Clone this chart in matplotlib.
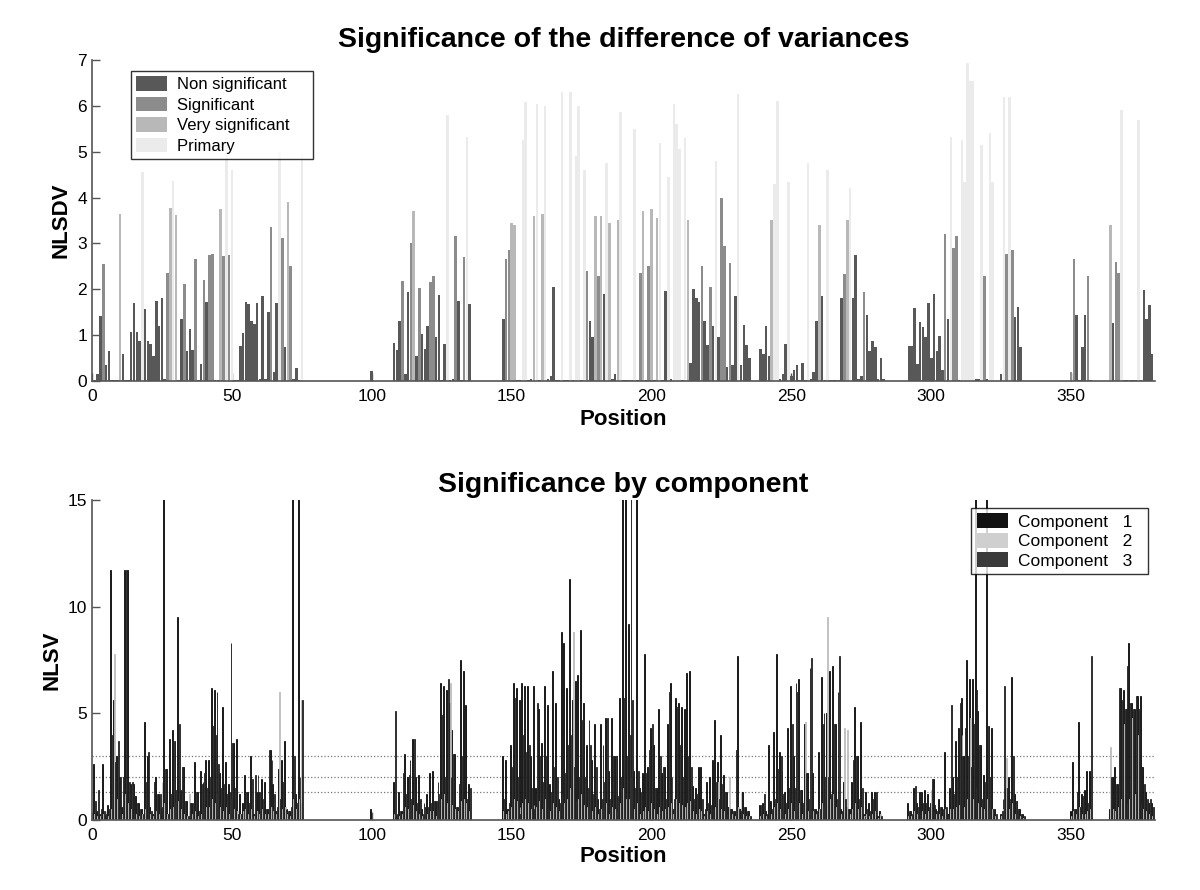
import numpy as np
import matplotlib
matplotlib.use("Agg")
import matplotlib.pyplot as plt
from matplotlib.patches import Patch

plt.rcParams['font.family'] = ['Liberation Sans', 'DejaVu Sans']

# ---------------- data ----------------
N_POS = 380
positions = np.arange(1, N_POS + 1)

# top panel: NLSDV per position
top_values = [
    0.03, 0.15, 1.42, 2.55, 0.35, 0.65, 0.03, 0.03, 0.03, 3.64,
    0.59, 0.02, 0.02, 1.07, 1.70, 1.07, 0.88, 4.56, 1.58, 0.87,
    0.80, 0.55, 1.75, 1.20, 1.80, 0.05, 2.35, 3.77, 4.37, 3.62,
    0.02, 1.35, 2.12, 0.65, 1.13, 0.68, 2.65, 0.02, 0.38, 2.20,
    1.73, 2.74, 2.78, 0.03, 0.03, 3.75, 2.72, 5.30, 2.74, 4.60,
    0.03, 0.03, 0.77, 1.05, 1.72, 1.68, 1.30, 1.25, 1.70, 0.05,
    1.85, 0.05, 1.50, 3.35, 0.20, 1.70, 5.00, 3.12, 0.75, 3.90,
    2.50, 0.05, 0.28, 0.03, 4.95, 0, 0, 0, 0, 0,
    0, 0, 0, 0, 0, 0, 0, 0, 0, 0,
    0, 0, 0, 0, 0, 0, 0, 0, 0, 0.22,
    0, 0, 0, 0, 0, 0, 0, 0.83, 0.68, 1.30,
    2.17, 0.15, 1.95, 3.00, 3.70, 0.55, 2.03, 1.02, 0.70, 1.20,
    2.15, 2.30, 0.95, 1.88, 0.03, 0.80, 5.80, 0.03, 0.05, 3.17,
    1.75, 0.03, 2.70, 5.33, 1.67, 0, 0, 0, 0, 0,
    0, 0, 0, 0, 0, 0, 1.36, 2.65, 2.85, 3.45,
    3.40, 0.03, 0.03, 5.25, 6.08, 0.03, 0.05, 3.60, 6.03, 0.03,
    3.65, 6.00, 0.05, 0.10, 2.05, 0.03, 0.03, 6.30, 0.03, 0.03,
    6.30, 0.03, 4.90, 6.00, 0.03, 4.60, 2.40, 1.30, 0.95, 3.60,
    2.30, 3.60, 1.90, 4.75, 3.45, 0.05, 0.15, 3.50, 5.87, 0.03,
    0.03, 0.03, 0.03, 5.50, 0.03, 2.35, 3.70, 0.03, 2.50, 3.75,
    0.03, 3.55, 5.20, 0.03, 1.97, 4.45, 0.05, 6.05, 5.60, 5.05,
    0.03, 5.30, 3.50, 0.40, 2.00, 1.80, 1.72, 2.50, 1.30, 0.78,
    2.05, 1.20, 4.80, 0.95, 4.00, 2.95, 0.30, 2.57, 0.35, 1.85,
    6.25, 0.35, 1.22, 0.78, 0.50, 0, 0, 0, 0.70, 0.58,
    1.20, 0.55, 3.50, 4.30, 6.10, 0.05, 0.15, 0.80, 4.33, 0.10,
    0.25, 0.35, 0.03, 0.40, 0.03, 4.75, 0.05, 0.20, 1.30, 3.40,
    1.85, 0.03, 4.60, 0.03, 0.03, 0.03, 0.03, 1.82, 2.33, 3.50,
    4.20, 1.82, 2.75, 0.05, 0.10, 1.95, 1.45, 0.65, 0.88, 0.75,
    0.05, 0.50, 0.05, 0, 0, 0, 0, 0, 0, 0,
    0, 0.77, 0.77, 1.60, 0.36, 1.28, 1.18, 0.95, 1.70, 0.50,
    1.90, 0.65, 0.98, 0.25, 3.20, 1.35, 5.33, 2.90, 3.17, 0.03,
    5.25, 4.35, 6.93, 6.55, 6.55, 0.05, 0.05, 5.15, 2.30, 0.05,
    5.40, 4.35, 0, 0, 0.15, 6.20, 2.78, 6.20, 2.85, 1.40,
    1.62, 0.75, 0, 0, 0, 0, 0, 0, 0, 0,
    0, 0, 0, 0, 0, 0, 0, 0, 0, 0.20,
    2.65, 1.43, 0.03, 0.75, 1.45, 2.28, 0.03, 0, 0, 0,
    0, 0, 0, 3.40, 1.27, 2.60, 2.35, 5.90, 0.03, 0.03,
    0.03, 0.03, 0.03, 5.70, 0.03, 1.98, 1.35, 1.65, 0.58, 0,
]

# significance class per position: 0 non significant, 1 significant,
# 2 very significant, 3 primary
top_class = [
    0, 0, 0, 1, 0, 0, 0, 0, 0, 2,
    0, 0, 0, 0, 0, 0, 0, 3, 0, 0,
    0, 0, 0, 0, 0, 0, 1, 2, 3, 2,
    0, 0, 1, 0, 0, 0, 1, 0, 0, 1,
    0, 1, 1, 0, 0, 2, 1, 3, 1, 3,
    0, 0, 0, 0, 0, 0, 0, 0, 0, 0,
    0, 0, 0, 1, 0, 0, 3, 1, 0, 2,
    1, 0, 0, 0, 3, 0, 0, 0, 0, 0,
    0, 0, 0, 0, 0, 0, 0, 0, 0, 0,
    0, 0, 0, 0, 0, 0, 0, 0, 0, 0,
    0, 0, 0, 0, 0, 0, 0, 0, 0, 0,
    1, 0, 0, 1, 2, 0, 1, 0, 0, 0,
    1, 1, 0, 0, 0, 0, 3, 0, 0, 1,
    0, 0, 1, 3, 0, 0, 0, 0, 0, 0,
    0, 0, 0, 0, 0, 0, 0, 1, 1, 2,
    2, 0, 0, 3, 3, 0, 0, 2, 3, 0,
    2, 3, 0, 0, 0, 0, 0, 3, 0, 0,
    3, 0, 3, 3, 0, 3, 1, 0, 0, 2,
    1, 2, 0, 3, 2, 0, 0, 2, 3, 0,
    0, 0, 0, 3, 0, 1, 2, 0, 1, 2,
    0, 2, 3, 0, 0, 3, 0, 3, 3, 3,
    0, 3, 2, 0, 0, 0, 0, 1, 0, 0,
    1, 0, 3, 0, 1, 1, 0, 1, 0, 0,
    3, 0, 0, 0, 0, 0, 0, 0, 0, 0,
    0, 0, 2, 3, 3, 0, 0, 0, 3, 0,
    0, 0, 0, 0, 0, 3, 0, 0, 0, 2,
    0, 0, 3, 0, 0, 0, 0, 0, 1, 2,
    3, 0, 0, 0, 0, 1, 0, 0, 0, 0,
    0, 0, 0, 0, 0, 0, 0, 0, 0, 0,
    0, 0, 0, 0, 0, 0, 0, 0, 0, 0,
    0, 0, 0, 0, 1, 0, 3, 1, 1, 0,
    3, 3, 3, 3, 3, 0, 0, 3, 1, 0,
    3, 3, 0, 0, 0, 3, 1, 3, 1, 0,
    0, 0, 0, 0, 0, 0, 0, 0, 0, 0,
    0, 0, 0, 0, 0, 0, 0, 0, 0, 1,
    1, 0, 0, 0, 0, 1, 0, 0, 0, 0,
    0, 0, 0, 2, 0, 1, 1, 3, 0, 0,
    0, 0, 0, 3, 0, 0, 0, 0, 0, 0,
]
class_labels = ['Non significant', 'Significant', 'Very significant', 'Primary']

# bottom panel: NLSV per component
comp1 = [
    2.6, 0.4, 0.3, 2.6, 0.2, 0.7, 11.7, 5.6, 3.0, 2.0,
    0.6, 11.7, 11.7, 1.7, 1.7, 1.1, 0.8, 0.5, 4.6, 3.0,
    0.6, 0.3, 2.0, 1.2, 0.5, 20, 2.4, 3.8, 4.2, 3.7,
    9.5, 1.4, 2.5, 0.9, 0.4, 0.8, 2.7, 1.3, 2.3, 1.8,
    2.8, 2.8, 6.2, 6.1, 6.0, 2.2, 5.3, 2.7, 1.7, 8.3,
    3.6, 3.8, 1.2, 0.8, 2.1, 1.3, 3.0, 0.3, 1.3, 1.3,
    1.9, 1.8, 0.5, 3.3, 1.7, 0.4, 2.4, 2.8, 3.7, 0.5,
    0.4, 20, 1.2, 20, 0.8, 0, 0, 0, 0, 0,
    0, 0, 0, 0, 0, 0, 0, 0, 0, 0,
    0, 0, 0, 0, 0, 0, 0, 0, 0, 0.5,
    0, 0, 0, 0, 0, 0, 0, 1.8, 0.2, 1.3,
    0.4, 3.1, 2.0, 2.8, 3.8, 2.0, 2.1, 0.5, 0.8, 1.2,
    2.2, 2.3, 0.9, 1.8, 6.4, 6.3, 6.1, 5.5, 4.2, 3.1,
    0.6, 7.5, 7.0, 5.4, 1.7, 0, 0, 0, 0, 0,
    0, 0, 0, 0, 0, 0, 3.0, 2.8, 0.5, 3.5,
    6.4, 6.2, 5.6, 6.4, 6.3, 6.3, 3.0, 6.3, 1.5, 5.2,
    3.6, 6.3, 5.4, 1.7, 7.0, 5.5, 1.0, 8.8, 8.3, 6.2,
    11.3, 5.6, 6.5, 6.8, 8.9, 5.5, 3.5, 4.7, 2.8, 4.5,
    1.0, 4.5, 3.5, 4.8, 2.3, 4.8, 3.0, 3.0, 5.7, 20,
    20, 9.2, 20, 2.3, 20, 1.5, 2.2, 7.8, 2.5, 4.3,
    3.5, 1.5, 5.2, 2.2, 2.5, 4.5, 6.4, 0.5, 5.7, 5.5,
    5.3, 5.2, 6.9, 7.0, 1.6, 1.5, 2.5, 2.5, 0.3, 1.8,
    2.0, 2.8, 4.7, 2.7, 4.0, 2.1, 1.3, 0.6, 0.5, 0.4,
    7.7, 0.5, 1.3, 0.6, 0.4, 0, 0, 0, 0.7, 0.8,
    0.4, 3.5, 0.9, 4.1, 7.8, 3.2, 2.3, 1.3, 4.3, 6.3,
    3.0, 6.4, 6.6, 1.4, 4.5, 2.2, 7.1, 2.2, 0.5, 3.2,
    6.7, 5.0, 5.0, 7.0, 7.2, 4.5, 6.0, 0.5, 1.8, 0.6,
    0.5, 1.8, 5.3, 3.0, 4.6, 0.3, 1.3, 0.8, 1.3, 1.3,
    0.2, 0.4, 0, 0, 0, 0, 0, 0, 0, 0,
    0, 0.8, 0.4, 1.5, 0.8, 1.3, 1.3, 1.4, 1.2, 0.8,
    1.9, 0.5, 1.0, 0.6, 3.2, 0.3, 1.5, 2.0, 3.7, 4.3,
    5.7, 3.0, 7.5, 6.6, 6.6, 20, 5.1, 3.5, 2.1, 20,
    4.4, 4.3, 0.5, 0, 0.3, 1.0, 1.5, 2.0, 6.7, 1.2,
    0.9, 0.5, 0.3, 0, 0, 0, 0, 0, 0, 0,
    0, 0, 0, 0, 0, 0, 0, 0, 0, 0.4,
    2.7, 0.5, 4.6, 1.2, 1.4, 2.3, 2.3, 0, 0, 0,
    0, 0, 0, 0.5, 2.0, 2.5, 1.7, 6.2, 6.1, 5.2,
    8.3, 5.5, 5.2, 5.8, 5.8, 2.5, 1.3, 0.8, 0.8, 0,
]
comp2 = [
    0.3, 0.2, 0.2, 0.3, 0.4, 0.2, 0.5, 7.8, 1.0, 0.5,
    0.3, 1.2, 0.8, 0.5, 0.4, 0.3, 0.2, 0.3, 0.5, 0.6,
    0.3, 0.2, 0.4, 0.3, 1.8, 0.8, 0.3, 0.5, 0.6, 0.8,
    0.9, 0.5, 0.3, 0.2, 1.2, 0.3, 0.4, 0.2, 0.3, 0.5,
    0.6, 0.6, 1.0, 0.8, 1.2, 0.6, 0.4, 0.6, 0.3, 1.0,
    0.5, 0.4, 0.3, 0.4, 0.5, 0.3, 0.5, 0.2, 0.4, 0.3,
    0.5, 0.3, 0.3, 0.6, 0.4, 0.3, 6.0, 0.5, 0.6, 0.3,
    0.2, 1.0, 0.5, 1.0, 5.6, 0, 0, 0, 0, 0,
    0, 0, 0, 0, 0, 0, 0, 0, 0, 0,
    0, 0, 0, 0, 0, 0, 0, 0, 0, 0,
    0, 0, 0, 0, 0, 0, 0, 0.3, 0.1, 0.2,
    0.3, 0.6, 0.5, 0.6, 0.7, 0.4, 0.3, 0.2, 0.3, 0.3,
    0.4, 0.4, 0.2, 0.5, 1.0, 1.2, 0.8, 6.4, 0.7, 0.5,
    0.4, 0.9, 1.0, 0.8, 0.4, 0, 0, 0, 0, 0,
    0, 0, 0, 0, 0, 0, 0.4, 0.3, 0.4, 0.6,
    1.0, 0.9, 0.6, 0.8, 1.0, 0.8, 0.5, 0.7, 0.6, 0.9,
    0.5, 1.0, 0.6, 0.4, 0.8, 0.6, 0.4, 1.2, 0.8, 1.0,
    1.5, 8.8, 0.9, 1.0, 1.2, 0.7, 0.6, 0.6, 0.4, 0.6,
    0.3, 0.5, 0.6, 0.8, 0.3, 0.6, 0.5, 0.4, 0.8, 1.5,
    1.0, 1.0, 2.0, 0.5, 0.8, 0.3, 0.4, 0.6, 0.4, 0.8,
    0.5, 0.3, 0.6, 0.4, 0.5, 0.6, 0.8, 0.3, 1.0, 0.8,
    0.7, 0.6, 0.8, 0.9, 0.4, 0.3, 0.5, 0.4, 0.2, 0.4,
    0.3, 0.5, 0.6, 1.8, 0.5, 0.4, 0.3, 2.0, 0.3, 0.2,
    0.6, 1.3, 0.3, 0.2, 0.2, 0, 0, 0, 0.2, 0.3,
    0.2, 0.4, 0.3, 0.6, 0.8, 0.5, 0.4, 0.3, 0.5, 0.8,
    0.4, 0.9, 0.8, 0.3, 4.6, 0.4, 1.0, 0.4, 0.3, 0.5,
    0.8, 0.6, 9.5, 1.0, 1.2, 0.6, 1.0, 0.3, 4.3, 4.2,
    0.3, 0.5, 0.8, 0.5, 0.6, 0.2, 0.3, 0.2, 0.3, 0.4,
    0.1, 0.3, 0, 0, 0, 0, 0, 0, 0, 0,
    0, 0.2, 0.2, 0.4, 0.3, 0.3, 0.4, 0.3, 0.4, 1.4,
    0.4, 0.3, 0.3, 0.2, 0.5, 0.2, 0.5, 0.5, 0.6, 0.7,
    4.0, 0.6, 1.0, 4.8, 1.0, 1.5, 0.8, 0.6, 0.5, 1.0,
    0.6, 0.5, 0.2, 0, 0.2, 0.5, 2.9, 0.5, 0.8, 0.3,
    0.3, 0.2, 0.1, 0, 0, 0, 0, 0, 0, 0,
    0, 0, 0, 0, 0, 0, 0, 0, 0, 0.2,
    0.4, 0.3, 0.6, 0.3, 0.3, 0.4, 0.5, 0, 0, 0,
    0, 0, 0, 3.4, 0.5, 0.4, 0.6, 1.0, 4.5, 0.8,
    1.0, 4.8, 1.2, 4.0, 0.8, 0.5, 0.4, 0.3, 0.2, 0,
]
comp3 = [
    0.9, 1.4, 0.5, 0.4, 0.3, 0.5, 4.0, 2.7, 3.7, 2.0,
    2.0, 11.7, 1.8, 1.8, 1.1, 0.8, 0.5, 0.3, 1.8, 3.2,
    0.4, 1.8, 1.2, 1.2, 0.6, 2.4, 0.3, 1.2, 3.7, 1.4,
    4.5, 2.5, 0.9, 0.2, 0.8, 0.8, 1.3, 0.4, 1.7, 2.2,
    1.5, 2.0, 4.4, 4.0, 2.6, 1.5, 1.7, 1.2, 1.3, 3.6,
    1.5, 0.3, 0.3, 1.2, 1.3, 0.8, 1.9, 2.1, 2.1, 1.3,
    1.0, 0.5, 3.3, 2.8, 1.2, 0.6, 1.0, 1.8, 0.5, 0.4,
    0.6, 3.0, 0.8, 2.0, 5.6, 0, 0, 0, 0, 0,
    0, 0, 0, 0, 0, 0, 0, 0, 0, 0,
    0, 0, 0, 0, 0, 0, 0, 0, 0, 0,
    0, 0, 0, 0, 0, 0, 0, 5.1, 0.3, 0.4,
    2.2, 1.2, 2.1, 1.0, 3.8, 0.8, 1.0, 0.3, 0.6, 0.6,
    0.8, 0.9, 0.9, 1.2, 4.9, 2.0, 6.6, 2.0, 3.1, 0.6,
    1.7, 3.0, 1.3, 1.0, 1.5, 0, 0, 0, 0, 0,
    0, 0, 0, 0, 0, 0, 1.0, 0.5, 0.8, 2.5,
    5.7, 2.0, 0.3, 4.0, 3.2, 3.5, 1.5, 0.5, 5.5, 3.0,
    1.8, 3.0, 1.0, 1.3, 2.5, 2.0, 0.8, 4.0, 2.2, 3.5,
    4.0, 2.5, 3.0, 2.0, 4.7, 2.0, 1.5, 3.5, 1.2, 2.5,
    0.5, 1.0, 1.8, 4.8, 1.0, 3.0, 3.0, 1.1, 2.0, 5.7,
    3.0, 4.0, 5.6, 1.5, 2.3, 1.3, 1.0, 2.2, 3.3, 4.5,
    1.5, 0.8, 3.0, 2.5, 1.0, 6.0, 2.0, 1.0, 5.3, 3.5,
    2.0, 3.3, 3.0, 2.5, 1.0, 1.2, 1.6, 1.0, 0.5, 0.8,
    0.7, 1.0, 1.8, 1.0, 1.7, 1.3, 0.6, 0.5, 0.4, 3.3,
    0.5, 0.4, 0.6, 0.4, 0.2, 0, 0, 0, 0.7, 1.2,
    0.3, 0.6, 0.5, 1.0, 2.4, 3.0, 1.2, 0.8, 1.5, 4.5,
    1.5, 6.0, 1.4, 0.8, 2.2, 1.0, 7.6, 0.5, 0.4, 0.5,
    4.5, 2.0, 2.0, 1.2, 4.5, 1.0, 7.7, 0.4, 1.0, 0.5,
    0.4, 2.8, 3.0, 1.0, 1.5, 0.2, 0.5, 0.4, 1.0, 1.3,
    0.2, 0.2, 0, 0, 0, 0, 0, 0, 0, 0,
    0, 0.4, 0.3, 1.6, 0.6, 1.3, 0.8, 0.8, 0.6, 1.9,
    0.7, 0.4, 0.6, 0.5, 0.6, 0.3, 5.4, 1.2, 2.0, 5.5,
    3.0, 4.3, 3.0, 2.5, 4.5, 6.1, 3.5, 1.0, 1.8, 4.4,
    2.0, 0.5, 0.3, 0, 0.4, 6.3, 1.5, 1.0, 3.0, 0.9,
    0.5, 0.3, 0.2, 0, 0, 0, 0, 0, 0, 0,
    0, 0, 0, 0, 0, 0, 0, 0, 0, 0.3,
    0.5, 1.3, 0.6, 1.1, 0.5, 0.8, 7.7, 0, 0, 0,
    0, 0, 0, 2.0, 1.0, 1.7, 6.2, 5.6, 5.2, 7.2,
    5.5, 5.2, 5.8, 5.2, 2.5, 1.7, 1.0, 1.0, 0.6, 0,
]
component_labels = ['Component   1', 'Component   2', 'Component   3']
threshold_levels = [1.3, 2.0, 3.0]

# ---------------- styling ----------------
class_colors = ['#585858', '#8c8c8c', '#b8b8b8', '#ebebeb']
comp_colors = ['#121212', '#cfcfcf', '#3a3a3a']
comp_edges = ['#0a0a0a', '#bdbdbd', '#202020']

fig = plt.figure(figsize=(12, 8.9), dpi=100)
ax1 = fig.add_axes([0.0767, 0.5719, 0.8858, 0.3607])
ax2 = fig.add_axes([0.0767, 0.0787, 0.8858, 0.3596])

def style(ax):
    for s in ['top', 'right']:
        ax.spines[s].set_visible(False)
    for s in ['left', 'bottom']:
        ax.spines[s].set_color('#555555')
        ax.spines[s].set_linewidth(1.2)
    ax.tick_params(direction='in', length=6, width=1, colors='#555555',
                   labelcolor='black', labelsize=12.5)
    ax.tick_params(axis='x', pad=6)
    ax.set_xlim(0, 380)
    ax.set_xticks(np.arange(0, 351, 50))

# top
ax1.bar(positions, top_values, width=0.92,
        color=[class_colors[c] for c in top_class], linewidth=0, zorder=2)
ax1.set_ylim(0, 7)
ax1.set_yticks(np.arange(0, 8, 1))
style(ax1)
ax1.set_title('Significance of the difference of variances', fontsize=20.5,
              fontweight='bold', pad=9)
ax1.set_xlabel('Position', fontsize=16, fontweight='bold', labelpad=3)
ax1.set_ylabel('NLSDV', fontsize=16, fontweight='bold', labelpad=4)
handles1 = [Patch(facecolor=c, edgecolor='none') for c in class_colors]
leg1 = ax1.legend(handles1, [t + '    ' for t in class_labels], loc='upper left',
                  bbox_to_anchor=(0.037, 0.965), fontsize=12, frameon=True,
                  fancybox=False, edgecolor='black', handlelength=1.85,
                  handleheight=0.95, labelspacing=0.28, borderpad=0.3,
                  handletextpad=0.6, borderaxespad=0)
leg1.get_frame().set_linewidth(1.0)
leg1.set_zorder(5)

# bottom
w = 1.0 / 3.0
for k, (vals, col, ec) in enumerate(zip([comp1, comp2, comp3], comp_colors, comp_edges)):
    ax2.bar(positions + (k - 1) * w, vals, width=w, color=col,
            edgecolor=ec, linewidth=0.6, zorder=2)
for lvl in threshold_levels:
    ax2.axhline(lvl, color='#777777', linestyle=':', linewidth=0.9, zorder=1)
ax2.axhline(0, color='#666666', linestyle=':', linewidth=1.0, zorder=3)
ax2.set_ylim(0, 15)
ax2.set_yticks([0, 5, 10, 15])
style(ax2)
ax2.set_title('Significance by component', fontsize=20.5, fontweight='bold', pad=6)
ax2.set_xlabel('Position', fontsize=16, fontweight='bold', labelpad=2)
ax2.set_ylabel('NLSV', fontsize=16, fontweight='bold', labelpad=4)
handles2 = [Patch(facecolor=c, edgecolor='none') for c in comp_colors]
leg2 = ax2.legend(handles2, [t + '  ' for t in component_labels], loc='upper right',
                  bbox_to_anchor=(0.993, 0.975), fontsize=12.5, frameon=True,
                  fancybox=False, edgecolor='black', handlelength=1.8,
                  handleheight=0.95, labelspacing=0.18, borderpad=0.3,
                  handletextpad=0.6, borderaxespad=0)
leg2.get_frame().set_linewidth(1.0)
leg2.set_zorder(5)

fig.savefig('out.png', dpi=100)
